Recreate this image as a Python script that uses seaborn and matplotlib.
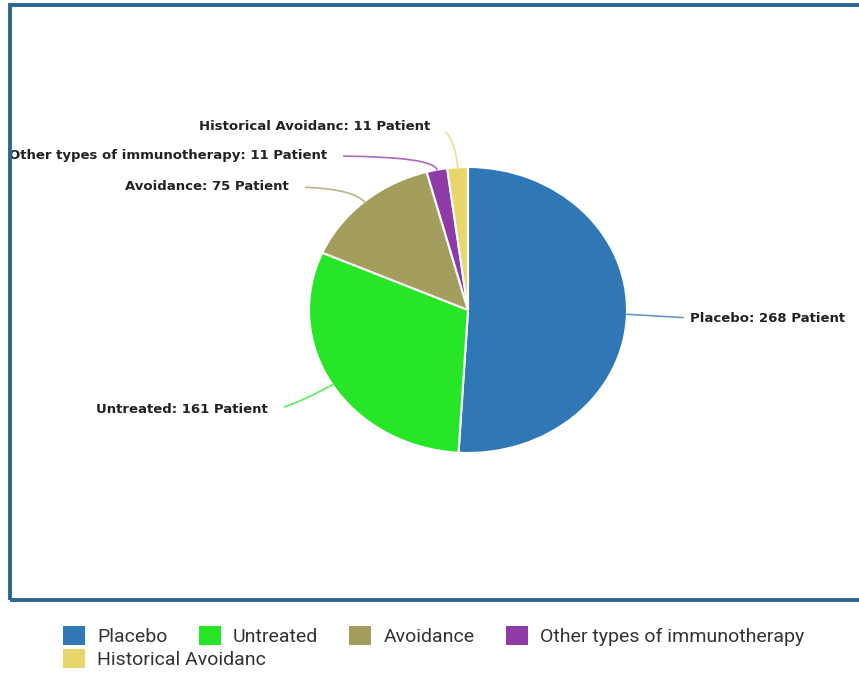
import numpy as np
import matplotlib
matplotlib.use("Agg")
import matplotlib.pyplot as plt
import seaborn as sns
from matplotlib.patches import Rectangle, Patch

# ---- data -------------------------------------------------------------
categories = ["Placebo", "Untreated", "Avoidance",
              "Other types of immunotherapy", "Historical Avoidanc"]
patients = [268, 161, 75, 11, 11]
colors = ["#2f78b5", "#27e627", "#a39d5e", "#8f3aa6", "#e9d66b"]

# ---- style ------------------------------------------------------------
sns.set_theme(style="white")
plt.rcParams["font.family"] = ["DejaVu Sans"]
palette = sns.color_palette(colors)

W, H = 859, 673
fig = plt.figure(figsize=(W / 100, H / 100), dpi=100)
fig.patch.set_facecolor("white")


def fx(px):
    return px / W


def fy(py):
    return 1 - py / H


# framed chart area
frame = Rectangle((fx(10), fy(600)), fx(880) - fx(10), fy(5) - fy(600),
                  transform=fig.transFigure, fill=False,
                  edgecolor="#2b6890", linewidth=2.8, zorder=5)
fig.patches.append(frame)

# pie geometry (pixels): centre and the two radii of the drawn ellipse
cx_px, cy_px, rx_px, ry_px = 468, 310, 159, 143
ax = fig.add_axes([fx(10), fy(600), 1 - fx(10), fy(5) - fy(600)])
wedges, _ = ax.pie(patients, colors=palette, startangle=90,
                   counterclock=False,
                   wedgeprops=dict(edgecolor="white", linewidth=1.5))
ax.set_aspect("auto")
ax.set_xlim((10 - cx_px) / rx_px, (859 - cx_px) / rx_px)
ax.set_ylim((cy_px - 600) / ry_px, (cy_px - 5) / ry_px)
ax.axis("off")

# label placement (pixel layout): x, y, alignment
label_layout = [
    (690, 318, "left"),
    (268, 410, "right"),
    (289, 187, "right"),
    (327, 156, "right"),
    (430, 126, "right"),
]

for w, cat, val, col, (lx, ly, ha) in zip(wedges, categories, patients,
                                          colors, label_layout):
    mid = np.deg2rad((w.theta1 + w.theta2) / 2)
    ex, ey = np.cos(mid), np.sin(mid)
    radial = np.rad2deg(np.arctan2(ry_px * ey, rx_px * ex))
    if ha == "left":
        conn = "arc3,rad=0"
        relpos = (0, 0.5)
        shrink = 5
    else:
        conn = f"angle3,angleA=0,angleB={radial:.2f}"
        relpos = (1, 0.5)
        shrink = 12
    ax.annotate(f"{cat}: {val} Patient", xy=(ex, ey),
                xytext=(fx(lx), fy(ly)), textcoords="figure fraction",
                ha=ha, va="center", fontsize=9.5, fontweight="bold",
                color="#222222",
                arrowprops=dict(arrowstyle="-", color=col, lw=1.2, alpha=0.75,
                                connectionstyle=conn, relpos=relpos,
                                patchA=None, shrinkA=shrink, shrinkB=0))

# ---- legend below the frame ------------------------------------------
handles = [Patch(facecolor=c, edgecolor="none") for c in colors]
leg_kw = dict(loc="center left", frameon=False,
              prop=dict(family="Roboto", size=14), labelcolor="#333333",
              handlelength=1.14, handleheight=1.14, handletextpad=0.62,
              columnspacing=1.6, borderpad=0, borderaxespad=0)
fig.legend(handles[:4], categories[:4], ncol=4,
           bbox_to_anchor=(fx(63), fy(636)), **leg_kw)
fig.legend(handles[4:], categories[4:], ncol=1,
           bbox_to_anchor=(fx(63), fy(659)), **leg_kw)

fig.savefig("out.png", dpi=100, facecolor="white")
